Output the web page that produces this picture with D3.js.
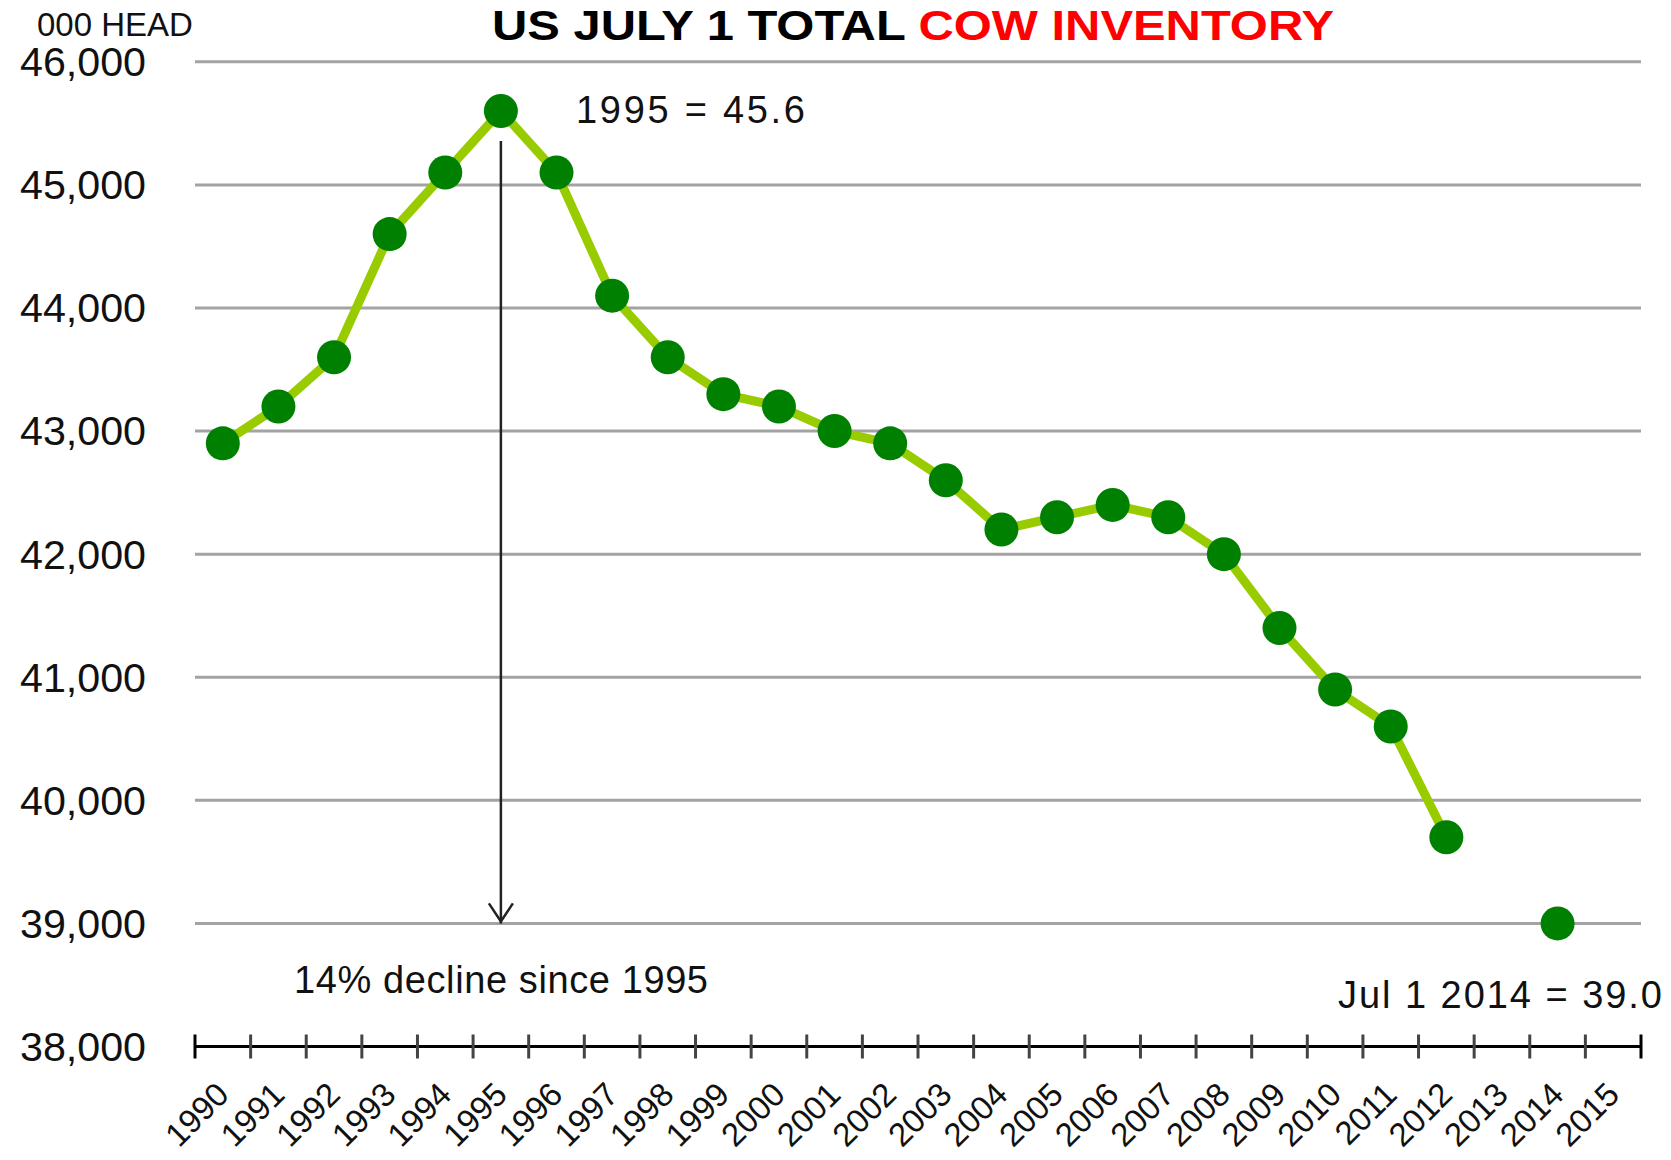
<!DOCTYPE html>
<html>
<head>
<meta charset="utf-8">
<script src="https://cdn.jsdelivr.net/npm/d3@7"></script>
<style>
  html, body { margin: 0; padding: 0; background: #fff; }
  svg { display: block; }
  text { font-family: "Liberation Sans", Arial, sans-serif; }
</style>
</head>
<body>
<svg id="chart" width="1671" height="1160"></svg>
<script>
// ---- data ----
const years = ["1990","1991","1992","1993","1994","1995","1996","1997","1998","1999",
               "2000","2001","2002","2003","2004","2005","2006","2007","2008","2009",
               "2010","2011","2012","2013","2014","2015"];
const cowInventory = [42900, 43200, 43600, 44600, 45100, 45600, 45100, 44100, 43600, 43300,
                      43200, 43000, 42900, 42600, 42200, 42300, 42400, 42300, 42000, 41400,
                      40900, 40600, 39700, null, 39000, null];
const yTickValues = [38000, 39000, 40000, 41000, 42000, 43000, 44000, 45000, 46000];
const titleParts = ["US JULY 1 TOTAL ", "COW INVENTORY"];
const unitLabel = "000 HEAD";
const peakNote = "1995 = 45.6";
const declineNote = "14% decline since 1995";
const latestNote = "Jul 1 2014 = 39.0";
const peakYear = "1995";

// ---- layout ----
const svg = d3.select("#chart");
const plotLeft = 195, plotRight = 1641, plotTop = 61.8, plotBottom = 1046.5;

const x = d3.scaleBand().domain(years).range([plotLeft, plotRight]).padding(0);
const y = d3.scaleLinear().domain([38000, 46000]).range([plotBottom, plotTop]);
const cx = d => x(d) + x.bandwidth() / 2;

const data = years.map((yr, i) => ({ year: yr, value: cowInventory[i] }));

// gridlines
svg.append("g").selectAll("line")
  .data(yTickValues.filter(v => v > 38000))
  .join("line")
  .attr("x1", plotLeft).attr("x2", plotRight)
  .attr("y1", d => y(d)).attr("y2", d => y(d))
  .attr("stroke", "#a3a3a3").attr("stroke-width", 3);

// y tick labels
svg.append("g").selectAll("text")
  .data(yTickValues)
  .join("text")
  .attr("x", 146).attr("y", d => y(d))
  .attr("dy", "0.36em")
  .attr("text-anchor", "end")
  .attr("font-size", 40)
  .attr("fill", "#111")
  .attr("textLength", 126)
  .attr("lengthAdjust", "spacingAndGlyphs")
  .text(d => d3.format(",")(d));

// unit label
svg.append("text")
  .attr("x", 37).attr("y", 36)
  .attr("font-size", 33)
  .attr("fill", "#111")
  .text(unitLabel);

// x axis line
svg.append("line")
  .attr("x1", plotLeft).attr("x2", plotRight)
  .attr("y1", y(38000)).attr("y2", y(38000))
  .attr("stroke", "#000").attr("stroke-width", 3);

// x ticks at band boundaries
const boundaries = years.map(d => x(d)).concat([x.range()[1]]);
svg.append("g").selectAll("line")
  .data(boundaries)
  .join("line")
  .attr("x1", d => d).attr("x2", d => d)
  .attr("y1", y(38000) - 12).attr("y2", y(38000) + 12)
  .attr("stroke", (d, i) => (i === 0 || i === boundaries.length - 1) ? "#000" : "#444")
  .attr("stroke-width", 3);

// x tick labels
svg.append("g").selectAll("text")
  .data(years)
  .join("text")
  .attr("text-anchor", "end")
  .attr("font-size", 33)
  .attr("fill", "#111")
  .attr("transform", d => `translate(${cx(d) + 8},${y(38000) + 50}) rotate(-45)`)
  .text(d => d);

// title
const title = svg.append("text")
  .attr("x", 492).attr("y", 40)
  .attr("font-size", 42)
  .attr("font-weight", "bold")
  .attr("textLength", 842)
  .attr("lengthAdjust", "spacingAndGlyphs");
title.append("tspan").attr("fill", "#000").text(titleParts[0]);
title.append("tspan").attr("fill", "#ff0000").text(titleParts[1]);

// arrow from peak down to 39,000
const ax = cx(peakYear);
const ayEnd = y(39000);
svg.append("line")
  .attr("x1", ax).attr("x2", ax)
  .attr("y1", y(45600) + 30).attr("y2", ayEnd)
  .attr("stroke", "#222").attr("stroke-width", 2.5);
svg.append("path")
  .attr("d", `M${ax - 12},${ayEnd - 20} L${ax},${ayEnd - 2} L${ax + 12},${ayEnd - 20}`)
  .attr("fill", "none").attr("stroke", "#222").attr("stroke-width", 2.5);

// line
const line = d3.line()
  .defined(d => d.value !== null)
  .x(d => cx(d.year))
  .y(d => y(d.value));
svg.append("path")
  .datum(data)
  .attr("d", line)
  .attr("fill", "none")
  .attr("stroke", "#99cc00")
  .attr("stroke-width", 9)
  .attr("stroke-linejoin", "round");

// dots
svg.append("g").selectAll("circle")
  .data(data.filter(d => d.value !== null))
  .join("circle")
  .attr("cx", d => cx(d.year))
  .attr("cy", d => y(d.value))
  .attr("r", 17)
  .attr("fill", "#008000");

// annotations
svg.append("text")
  .attr("x", 576).attr("y", 123)
  .attr("font-size", 38)
  .attr("fill", "#111")
  .attr("textLength", 229)
  .text(peakNote);

svg.append("text")
  .attr("x", 294).attr("y", 993)
  .attr("font-size", 38)
  .attr("fill", "#111")
  .attr("textLength", 414)
  .text(declineNote);

svg.append("text")
  .attr("x", 1338).attr("y", 1008)
  .attr("font-size", 38)
  .attr("fill", "#111")
  .attr("textLength", 324)
  .text(latestNote);
</script>
</body>
</html>
